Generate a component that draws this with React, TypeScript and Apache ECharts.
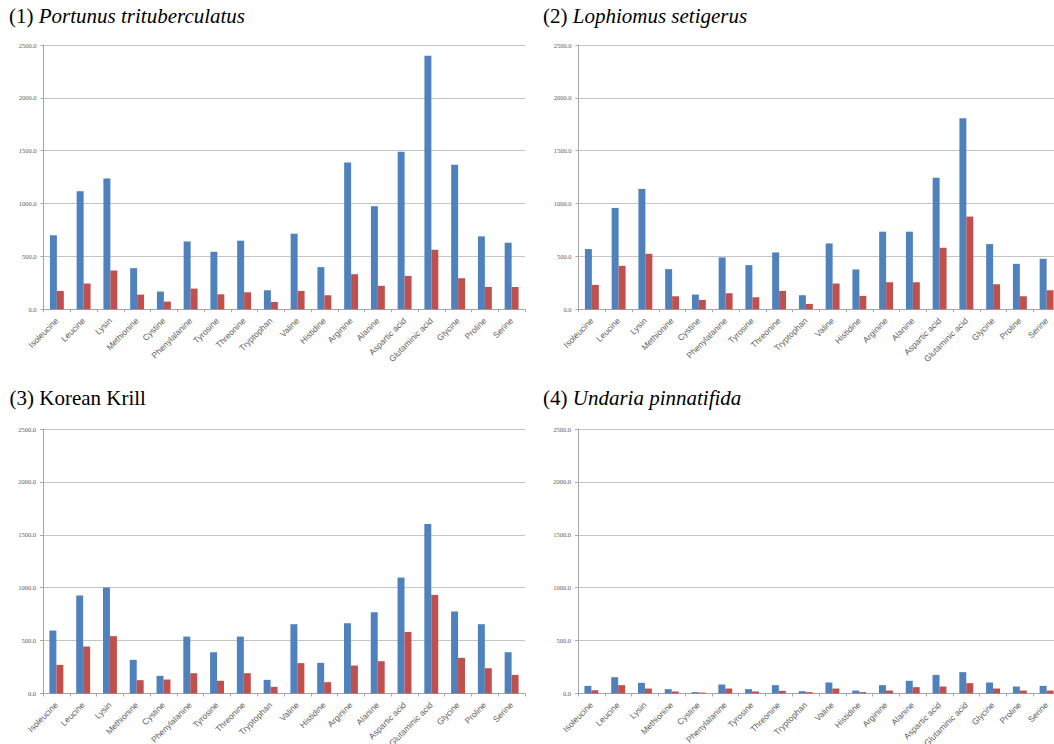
import React, { useEffect, useRef } from "react";
import * as echarts from "echarts";

const categories = [
  "Isoleucine", "Leucine", "Lysin", "Methionine", "Cystine", "Phenylalanine",
  "Tyrosine", "Threonine", "Tryptophan", "Valine", "Histidine", "Arginine",
  "Alanine", "Aspartic acid", "Glutaminic acid", "Glycine", "Proline", "Serine",
];

const yTicks = [0, 500, 1000, 1500, 2000, 2500];

const panelNums = ["(1) ", "(2) ", "(3) ", "(4) "];
const panelNames = ["Portunus trituberculatus", "Lophiomus setigerus", "Korean Krill", "Undaria pinnatifida"];
const panelItalic = [true, true, false, true];

// (1) Portunus trituberculatus
const p1Blue = [700, 1117, 1237, 389, 168, 642, 544, 649, 180, 715, 399, 1389, 975, 1491, 2399, 1367, 690, 630];
const p1Red = [174, 244, 367, 139, 73, 196, 142, 161, 70, 174, 133, 332, 222, 316, 563, 294, 212, 212];
// (2) Lophiomus setigerus
const p2Blue = [570, 959, 1139, 380, 139, 491, 418, 538, 133, 623, 377, 734, 734, 1244, 1807, 617, 430, 478];
const p2Red = [231, 411, 525, 123, 89, 152, 114, 174, 51, 244, 127, 256, 256, 582, 877, 237, 123, 180];
// (3) Korean Krill
const p3Blue = [595, 926, 1001, 318, 167, 538, 390, 538, 129, 655, 290, 664, 768, 1096, 1603, 775, 655, 390];
const p3Red = [271, 444, 542, 126, 132, 192, 120, 192, 63, 287, 107, 264, 305, 582, 932, 337, 239, 176];
// (4) Undaria pinnatifida
const p4Blue = [72, 154, 101, 41, 13, 85, 41, 79, 22, 104, 28, 79, 120, 176, 202, 104, 66, 72];
const p4Red = [31, 79, 47, 19, 9, 47, 19, 25, 13, 47, 13, 28, 60, 66, 98, 47, 28, 28];

const blueSeries = [p1Blue, p2Blue, p3Blue, p4Blue];
const redSeries = [p1Red, p2Red, p3Red, p4Red];

const SERIF = "Liberation Serif";
const TITLE_SIZE = 21;

function measure(text: string, font: string): number {
  const c = document.createElement("canvas");
  const ctx = c.getContext("2d");
  if (!ctx) return text.length * 9;
  ctx.font = font;
  return ctx.measureText(text).width;
}

export default function App() {
  const ref = useRef<HTMLDivElement>(null);

  useEffect(() => {
    if (!ref.current) return;
    const chart = echarts.init(ref.current, null, { renderer: "svg" });

    const grids = [
      { left: 43.5, top: 45, width: 481.5, height: 264.3 },
      { left: 578.5, top: 45, width: 481.5, height: 264.3 },
      { left: 43, top: 429, width: 482, height: 264.5 },
      { left: 578, top: 429, width: 482, height: 264.5 },
    ];
    // bottom edge positions of the panel titles
    const titlePos = [
      { x: 9, y: 26.5 },
      { x: 543, y: 26.5 },
      { x: 9.5, y: 408 },
      { x: 543, y: 408 },
    ];

    const axisColor = "#a6a6a6";
    const gridColor = "#c4c4c4";
    const labelColor = "#606060";

    const titleElems: any[] = [];
    panelNums.forEach((num, i) => {
      const w = measure(num, `normal ${TITLE_SIZE}px "${SERIF}"`);
      titleElems.push({
        type: "text",
        x: titlePos[i].x,
        y: titlePos[i].y,
        style: {
          text: num,
          fontFamily: SERIF,
          fontSize: TITLE_SIZE,
          fontStyle: "normal",
          fontWeight: "normal",
          fill: "#000",
          textVerticalAlign: "bottom",
        },
      });
      titleElems.push({
        type: "text",
        x: titlePos[i].x + w,
        y: titlePos[i].y,
        style: {
          text: panelNames[i],
          fontFamily: SERIF,
          fontSize: TITLE_SIZE,
          fontStyle: panelItalic[i] ? "italic" : "normal",
          fontWeight: "normal",
          fill: "#000",
          textVerticalAlign: "bottom",
        },
      });
    });

    const option: any = {
      animation: false,
      backgroundColor: "#ffffff",
      graphic: titleElems,
      grid: grids.map((g) => ({ ...g, containLabel: false, outerBoundsMode: "none" })),
      xAxis: grids.map((_, i) => ({
        type: "category",
        gridIndex: i,
        data: categories,
        axisLine: { show: true, lineStyle: { color: axisColor, width: 1 } },
        axisTick: { show: true, length: 3, lineStyle: { color: axisColor } },
        axisLabel: {
          interval: 0,
          rotate: 45,
          margin: 10,
          fontSize: 8.5,
          color: labelColor,
          fontFamily: "Liberation Sans",
        },
        splitLine: { show: false },
      })),
      yAxis: grids.map((_, i) => ({
        type: "value",
        gridIndex: i,
        min: yTicks[0],
        max: yTicks[yTicks.length - 1],
        interval: yTicks[1] - yTicks[0],
        axisLine: { show: true, lineStyle: { color: axisColor, width: 1 } },
        axisTick: { show: true, length: 3, lineStyle: { color: axisColor } },
        axisLabel: {
          margin: 7,
          fontSize: 6.5,
          color: labelColor,
          fontFamily: "Liberation Sans Narrow",
          formatter: (v: number) => v.toFixed(1),
        },
        splitLine: { show: true, lineStyle: { color: gridColor, width: 1 } },
      })),
      series: grids.flatMap((_, i) => [
        {
          name: "Series 1",
          type: "bar",
          xAxisIndex: i,
          yAxisIndex: i,
          data: blueSeries[i],
          barGap: "0%",
          barCategoryGap: "48%",
          itemStyle: { color: "#4F81BD" },
        },
        {
          name: "Series 2",
          type: "bar",
          xAxisIndex: i,
          yAxisIndex: i,
          data: redSeries[i],
          barGap: "0%",
          barCategoryGap: "48%",
          itemStyle: { color: "#C0504D" },
        },
      ]),
    };

    chart.setOption(option);
    return () => chart.dispose();
  }, []);

  return (
    <div
      ref={ref}
      style={{ position: "absolute", left: 0, top: 0, width: 1054, height: 744, overflow: "hidden" }}
    />
  );
}
